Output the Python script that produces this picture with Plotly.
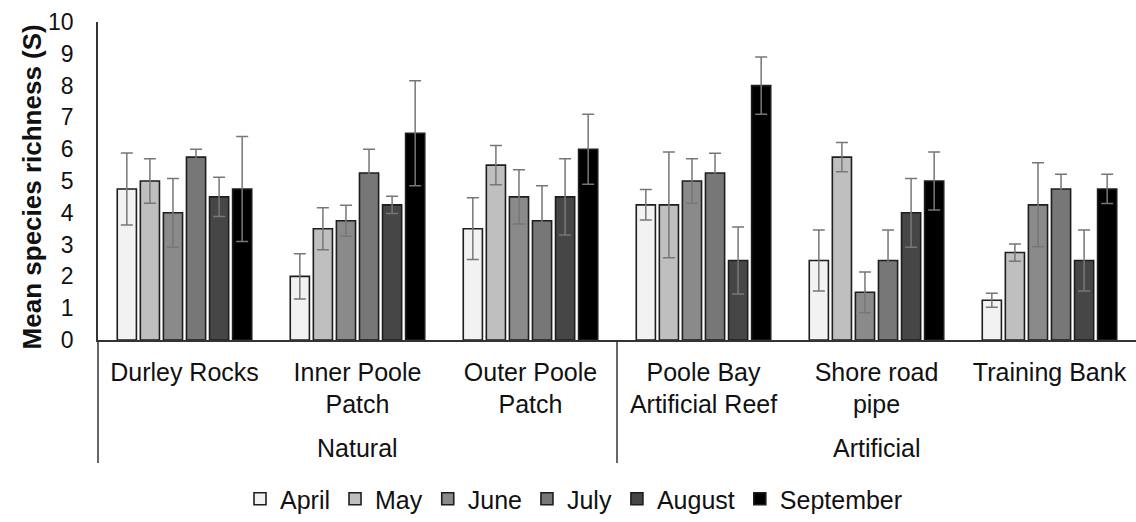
import plotly.graph_objects as go

# Sites and their habitat type
sites = ["Durley Rocks", "Inner Poole Patch", "Outer Poole Patch",
         "Poole Bay Artificial Reef", "Shore road pipe", "Training Bank"]
site_labels = ["Durley Rocks", "Inner Poole<br>Patch", "Outer Poole<br>Patch",
               "Poole Bay<br>Artificial Reef", "Shore road<br>pipe", "Training Bank"]
habitats = ["Natural", "Artificial"]

months = ["April", "May", "June", "July", "August", "September"]

# Mean species richness per site for each month
april = [4.75, 2.0, 3.5, 4.25, 2.5, 1.25]
may = [5.0, 3.5, 5.5, 4.25, 5.75, 2.75]
june = [4.0, 3.75, 4.5, 5.0, 1.5, 4.25]
july = [5.75, 5.25, 3.75, 5.25, 2.5, 4.75]
august = [4.5, 4.25, 4.5, 2.5, 4.0, 2.5]
september = [4.75, 6.5, 6.0, 8.0, 5.0, 4.75]

# Standard errors
april_se = [1.13, 0.71, 0.97, 0.48, 0.96, 0.22]
may_se = [0.7, 0.66, 0.62, 1.66, 0.46, 0.27]
june_se = [1.08, 0.49, 0.85, 0.7, 0.64, 1.32]
july_se = [0.25, 0.75, 1.1, 0.62, 0.96, 0.46]
august_se = [0.62, 0.27, 1.2, 1.05, 1.08, 0.96]
september_se = [1.65, 1.65, 1.1, 0.9, 0.91, 0.46]

values = [april, may, june, july, august, september]
errors = [april_se, may_se, june_se, july_se, august_se, september_se]
colors = ["#f2f2f2", "#bfbfbf", "#8a8a8a", "#777777", "#464646", "#000000"]

FONT = "Liberation Sans, Arial, sans-serif"

fig = go.Figure()
for name, vals, errs, col in zip(months, values, errors, colors):
    fig.add_trace(go.Bar(
        name=name, x=sites, y=vals,
        marker=dict(color=col, line=dict(color="#1e1e1e", width=1.6)),
        error_y=dict(type="data", array=errs, symmetric=True,
                     color="#777777", thickness=1.5, width=6),
    ))

# Vertical frame lines below the axis: left edge and the habitat divider
ext = -(470 - 345) / 323
fig.add_shape(type="line", xref="paper", yref="paper", x0=0, x1=0, y0=0, y1=ext,
              line=dict(color="#333333", width=1.5))
fig.add_shape(type="line", xref="x", yref="paper", x0=2.5, x1=2.5, y0=0, y1=ext,
              line=dict(color="#333333", width=1.5))

# Habitat group labels
grp_y = -(455 - 345) / 323
for label, xc in zip(habitats, [1.0, 4.0]):
    fig.add_annotation(text=label, x=xc, xref="x", y=grp_y, yref="paper",
                       showarrow=False, xanchor="center", yanchor="middle",
                       font=dict(family=FONT, size=25, color="#111111"))

# Y-axis title
fig.add_annotation(text="<b>Mean species richness (S)</b>", textangle=-90,
                   x=-(98 - 32) / 1038, xref="paper", y=(345 - 190) / 323, yref="paper",
                   showarrow=False, xanchor="center", yanchor="middle",
                   font=dict(family=FONT, size=26, color="#111111"))

fig.update_layout(
    width=1136, height=522,
    margin=dict(l=98, r=0, t=22, b=177),
    paper_bgcolor="white", plot_bgcolor="white",
    barmode="group", bargap=0.2, bargroupgap=0.17,
    font=dict(family=FONT, size=25, color="#111111"),
    showlegend=True,
    legend=dict(orientation="h", x=(574 - 98) / 1038, xanchor="center",
                y=-(507 - 345) / 323, yanchor="middle",
                font=dict(family=FONT, size=25, color="#111111"),
                itemwidth=30, traceorder="normal"),
    xaxis=dict(range=[-0.5, 5.5], tickmode="array", tickvals=sites, ticktext=site_labels,
               showline=True, linecolor="#333333", linewidth=1.5, ticks="",
               showgrid=False, zeroline=False, ticklabelstandoff=9,
               tickfont=dict(family=FONT, size=25, color="#111111")),
    yaxis=dict(range=[0, 10], dtick=1, showline=True, linecolor="#333333", linewidth=1.5,
               ticks="", showgrid=False, zeroline=False, ticklabelstandoff=18,
               tickfont=dict(family=FONT, size=23, color="#111111")),
)

fig.write_html("out.html")
